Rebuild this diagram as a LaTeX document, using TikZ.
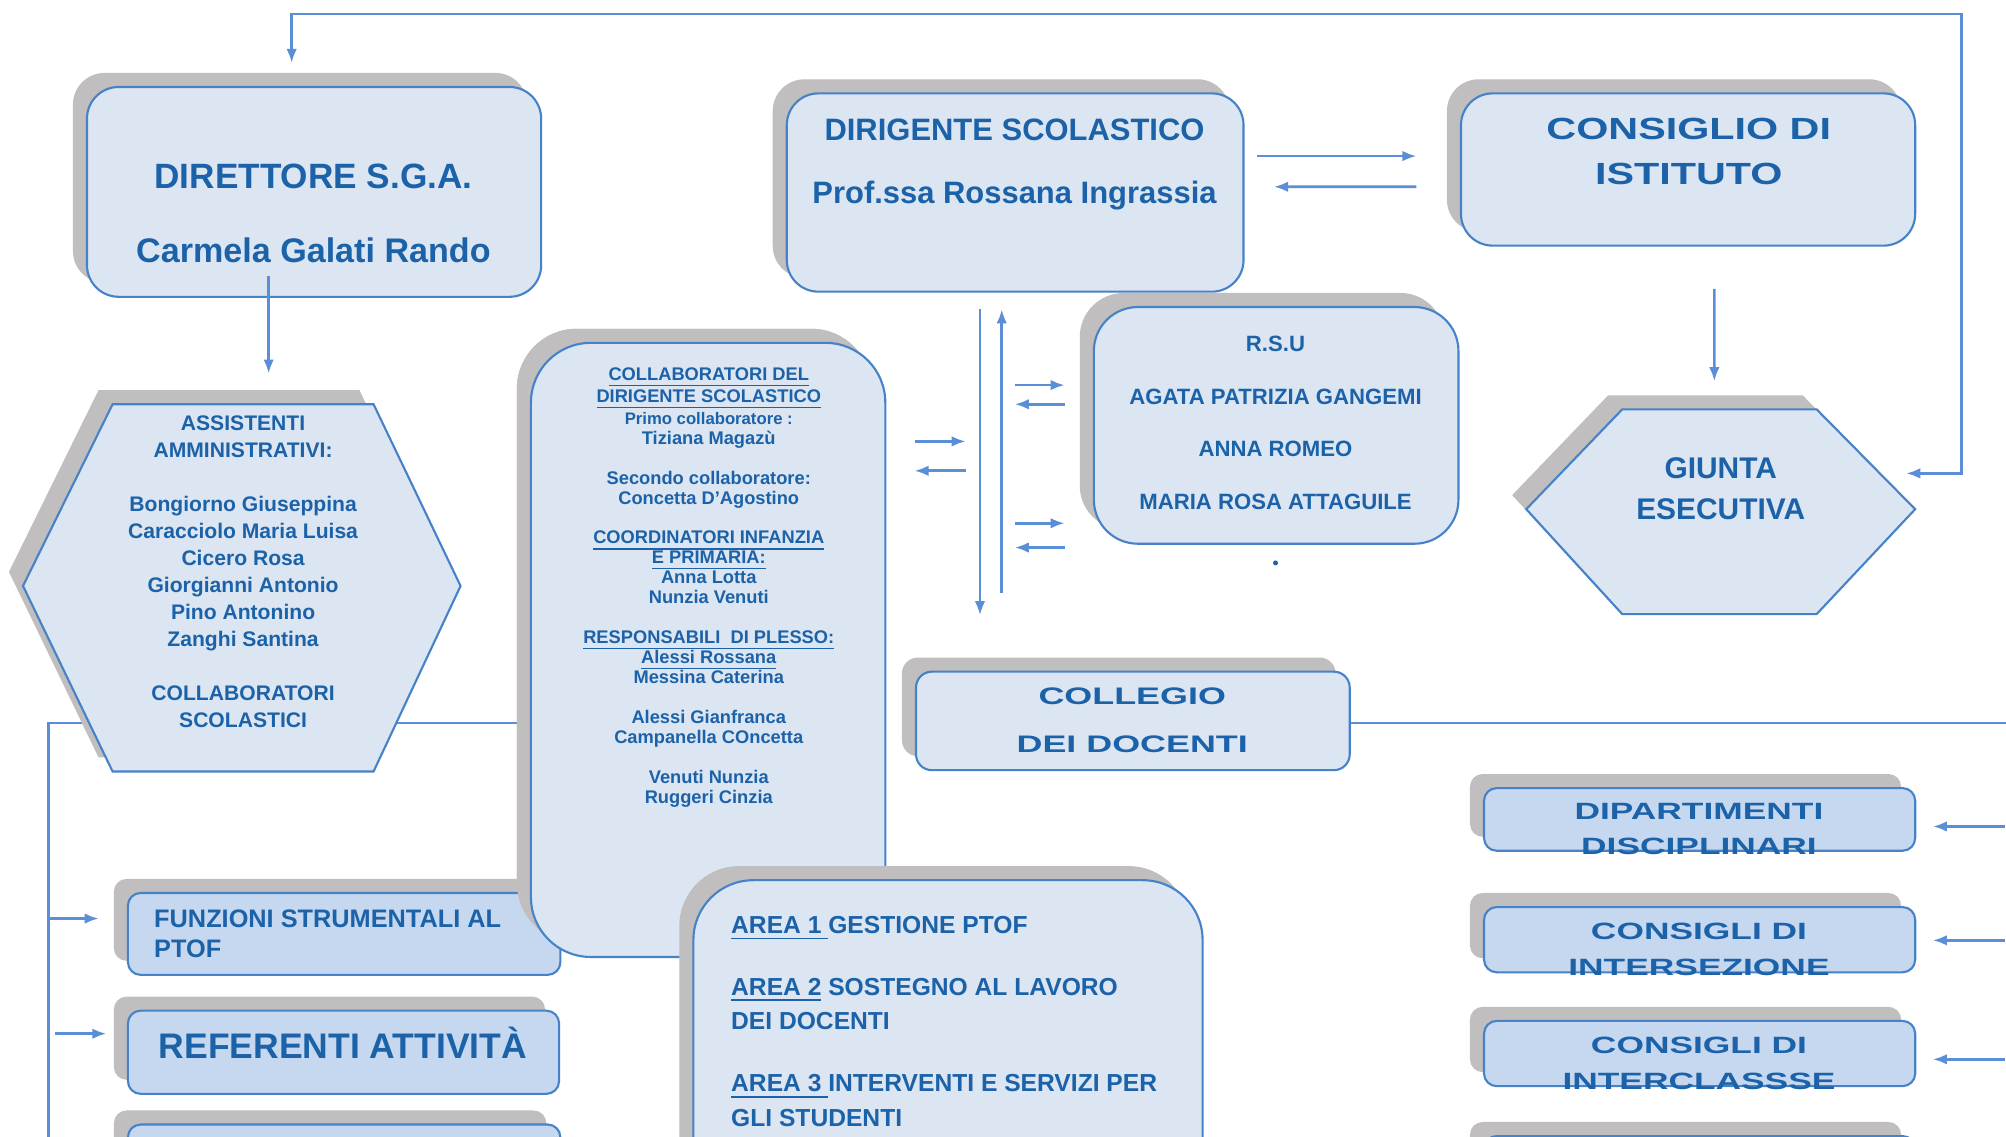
\documentclass[tikz,border=0pt]{standalone}
\usepackage{fontspec}
\setmainfont{Liberation Sans}
\newfontfamily\wideA[FakeStretch=1.35]{Liberation Sans}
\newfontfamily\wideB[FakeStretch=1.5]{Liberation Sans}
\usetikzlibrary{shadows,arrows.meta,calc}
\def\uu{0.012793cm}
\newcommand\fs[2]{\fontsize{#1}{#2}\selectfont\lineskiplimit=-20pt\relax}
\definecolor{boxfill}{RGB}{220,229,242}
\definecolor{boxfilltwo}{RGB}{198,216,240}
\definecolor{bord}{RGB}{70,130,200}
\definecolor{shad}{RGB}{192,190,190}
\definecolor{conn}{RGB}{90,142,214}
\definecolor{txt}{RGB}{28,98,168}
\begin{document}
\begin{tikzpicture}[x=\uu,y=-\uu,
  bx/.style={draw=bord, line width=0.6pt, fill=boxfill, inner sep=0pt,
     general shadow={fill=shad, shadow xshift=-4pt, shadow yshift=4pt}},
  bxtwo/.style={bx, fill=boxfilltwo},
  tx/.style={text=txt, inner sep=0pt, align=center},
  cn/.style={draw=conn, line width=0.75pt},
  ar/.style={cn, -{Latex[length=4pt,width=3pt]}},
  artwo/.style={cn, {Latex[length=4pt,width=3pt]}-{Latex[length=4pt,width=3pt]}}]
\path[use as bounding box, clip] (0,0) rectangle (1568,888);
\fill[white] (0,0) rectangle (1568,888);

\coordinate (lbus) at (38,900);
\coordinate (rbus) at (1575,565);
\coordinate (topR) at (1533,11);

% ---- boxes ----
\node[bx, rounded corners=9pt, minimum width=355*\uu, minimum height=164*\uu] (dir) at (245.5,150) {};
\node[bx, rounded corners=9pt, minimum width=357*\uu, minimum height=155*\uu] (dsc) at (793.5,150.5) {};
\node[bx, rounded corners=9pt, minimum width=355*\uu, minimum height=119*\uu] (cdi) at (1319.5,132.5) {};
\node[bx, rounded corners=12.5pt, minimum width=285*\uu, minimum height=185*\uu] (rsu) at (997.5,332.5) {};
\node[bx, rounded corners=4.5pt, minimum width=339*\uu, minimum height=77*\uu] (cdd) at (885.5,563.5) {};
\node[bx, rounded corners=17pt, minimum width=277*\uu, minimum height=480*\uu, draw=none, fill=none, general shadow={}] (colref) at (553.5,508) {};

% long bus line (behind the boxes)
\draw[cn] (lbus) |- (colref.west |- rbus);
\draw[cn] (cdd.east |- rbus) -- (rbus);

\node[bxtwo, rounded corners=3.6pt, minimum width=337*\uu, minimum height=49*\uu] (dip) at (1328.5,640.5) {};
\node[bxtwo, rounded corners=3.6pt, minimum width=337*\uu, minimum height=51*\uu] (cin) at (1328.5,734.5) {};
\node[bxtwo, rounded corners=3.6pt, minimum width=337*\uu, minimum height=51*\uu] (ccl) at (1328.5,823.5) {};
\node[bxtwo, rounded corners=3.6pt, minimum width=337*\uu, minimum height=51*\uu] (rfour) at (1328.5,913.5) {};

\node[bxtwo, rounded corners=3.6pt, minimum width=338*\uu, minimum height=64*\uu] (fun) at (269,730) {};
\node[bxtwo, rounded corners=3.6pt, minimum width=337*\uu, minimum height=65*\uu] (ref) at (268.5,822.5) {};
\node[bxtwo, rounded corners=3.6pt, minimum width=338*\uu, minimum height=66*\uu] (lthree) at (269,912) {};

% hexagons
\path[bx] (18,458) -- (88,316) -- (292,316) -- (360,458) -- (292,603) -- (88,603) -- cycle;
\coordinate (asn) at (190,316);
\path[bx] (1193,398) -- (1268,320) -- (1420,320) -- (1497,398) -- (1420,480) -- (1268,480) -- cycle;
\coordinate (gjn) at (1344,320);
\coordinate (gje) at (1497,398);

\node[bx, rounded corners=17pt, minimum width=277*\uu, minimum height=480*\uu] (col) at (553.5,508) {};
\node[bx, rounded corners=17pt, minimum width=398*\uu, minimum height=312*\uu] (area) at (741,844) {};

% ---- texts ----
\node[tx, font={\bfseries\fs{10}{21.1}}] (dirt) at (245,167)
  {DIRETTORE S.G.A.\\ \fs{9.7}{21.1}Carmela Galati Rando};
\node[tx, font={\bfseries\fs{8.8}{17.8}}] (dsct) at (793,128.5)
  {DIRIGENTE SCOLASTICO\\ Prof.ssa Rossana Ingrassia};
\node[tx, font={\wideA\bfseries\fs{8.7}{12.7}}] (cdit) at (1320,118.5)
  {CONSIGLIO DI\\ ISTITUTO};
\node[tx, font={\bfseries\fs{6.3}{14.9}}] (rsut) at (997,330.5)
  {R.S.U\\ AGATA PATRIZIA GANGEMI\\ ANNA ROMEO\\ MARIA ROSA ATTAGUILE};
\node[circle, fill=txt, inner sep=0.5pt] (dot) at (997,440) {};
\node[tx, font={\bfseries\fs{8.5}{11.6}}] (gjt) at (1345,382)
  {GIUNTA\\ ESECUTIVA};
\node[tx, font={\bfseries\fs{6}{7.68}}] (ast) at (190,447)
  {ASSISTENTI\\ AMMINISTRATIVI:\\[7.68pt] Bongiorno Giuseppina\\ Caracciolo Maria Luisa\\ Cicero Rosa\\ Giorgianni Antonio\\ Pino Antonino\\ Zanghi Santina\\[7.68pt] COLLABORATORI\\ SCOLASTICI};
\node[tx, font={\bfseries\fs{5.2}{5.67}}] (colt) at (554,459)
  {\underline{COLLABORATORI DEL}\\[0.7pt] \underline{DIRIGENTE SCOLASTICO}\\[0.5pt] \fs{4.75}{5.67}Primo collaboratore :\\ Tiziana Magazù\\[5.67pt] Secondo collaboratore:\\ Concetta D'Agostino\\[5.67pt] \underline{COORDINATORI INFANZIA}\\ \underline{E PRIMARIA:}\\ Anna Lotta\\ Nunzia Venuti\\[5.67pt] \underline{RESPONSABILI\ \ DI PLESSO:}\\ \underline{Alessi Rossana}\\ Messina Caterina\\[5.67pt] Alessi Gianfranca\\ Campanella COncetta\\[5.67pt] Venuti Nunzia\\ Ruggeri Cinzia};
\node[tx, font={\wideB\bfseries\fs{6.8}{13.8}}] (cddt) at (885,563)
  {COLLEGIO\\ DEI DOCENTI};
\node[tx, font={\wideB\bfseries\fs{6.7}{10.2}}] (dipt) at (1328,648)
  {DIPARTIMENTI\\ DISCIPLINARI};
\node[tx, font={\wideB\bfseries\fs{6.7}{10.2}}] (cint) at (1328,742)
  {CONSIGLI DI\\ INTERSEZIONE};
\node[tx, font={\wideB\bfseries\fs{6.7}{10.2}}] (cclt) at (1328,831)
  {CONSIGLI DI\\ INTERCLASSSE};
\node[tx, align=left, anchor=west, font={\bfseries\fs{7.2}{8.7}}] (funt) at (120,730)
  {FUNZIONI STRUMENTALI AL\\ PTOF};
\node[tx, font={\bfseries\fs{10.1}{12}}] (reft) at (268,815)
  {REFERENTI ATTIVITÀ};
\node[tx, align=left, anchor=west, font={\bfseries\fs{7}{9.8}}] (areat) at (571,798.5)
  {\underline{AREA 1\ }GESTIONE PTOF\\[7.7pt] \underline{AREA 2} SOSTEGNO AL LAVORO\\ DEI DOCENTI\\[7.9pt] \underline{AREA 3\ }INTERVENTI E SERVIZI PER\\ GLI STUDENTI};

% ---- connectors ----
\draw[artwo] ($(dir.north)+(-17.5,-18)$) |- (topR) |- ($(gje)+(-7,-28)$);
\draw[ar] ($(dir.south)+(-35.5,-17)$) -- ($(asn)+(20,-24)$);
\draw[ar] ($(cdi.south)+(20.5,33)$) -- ($(gjn)+(-4,-22)$);
\draw[ar] ($(dsc.east)+(10,-28.5)$) -- ($(cdi.west)+(-34,-10.5)$);
\draw[ar] ($(cdi.west)+(-34,13.5)$) -- ($(dsc.east)+(23,-4.5)$);
\draw[ar] ($(dsc.south)+(-27.5,13)$) -- ($(dsc.south)+(-27.5,252)$);
\draw[ar] ($(dsc.south)+(-10.5,235)$) -- ($(dsc.south)+(-10.5,13)$);
\draw[ar] ($(col.east)+(22,-163)$) -- ($(col.east)+(62,-163)$);
\draw[ar] ($(col.east)+(62,-140)$) -- ($(col.east)+(22,-140)$);
\draw[ar] ($(rsu.west)+(-61,-31.5)$) -- ($(rsu.west)+(-22,-31.5)$);
\draw[ar] ($(rsu.west)+(-22,-16.5)$) -- ($(rsu.west)+(-61,-16.5)$);
\draw[ar] ($(rsu.west)+(-61,76.5)$) -- ($(rsu.west)+(-22,76.5)$);
\draw[ar] ($(rsu.west)+(-22,95.5)$) -- ($(rsu.west)+(-61,95.5)$);
\draw[ar] ($(dip.east)+(69,5.5)$) -- ($(dip.east)+(13,5.5)$);
\draw[ar] ($(cin.east)+(69,0.5)$) -- ($(cin.east)+(13,0.5)$);
\draw[ar] ($(ccl.east)+(69,4.5)$) -- ($(ccl.east)+(13,4.5)$);
\draw[ar] ($(fun.west)+(-60,-12)$) -- ($(fun.west)+(-22,-12)$);
\draw[ar] ($(ref.west)+(-56,-14.5)$) -- ($(ref.west)+(-16,-14.5)$);
\end{tikzpicture}
\end{document}
